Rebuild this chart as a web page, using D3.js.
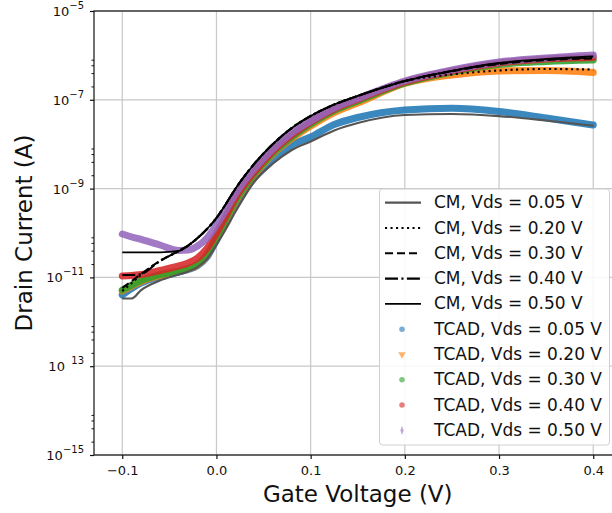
<!DOCTYPE html>
<html lang="en">
<head>
<meta charset="UTF-8" />
<title>Drain Current vs Gate Voltage</title>
<style>
  body { margin: 0; background: #fff; }
  svg { display: block; font-family: "DejaVu Sans", sans-serif; }
</style>
</head>
<body>
<svg id="chart" width="612" height="513"></svg>
<script src="https://d3js.org/d3.v7.min.js"></script>
<script>
  // gate voltage samples (V), shared by all series
  const gateVoltage = [-0.1, -0.09, -0.08, -0.06, -0.04, -0.03, -0.02, -0.01, 0, 0.01, 0.02, 0.04, 0.06, 0.08, 0.1, 0.125, 0.15, 0.2, 0.25, 0.3, 0.35, 0.4];

  // compact model curves (A)
  const cmVds005 = [3.35e-12, 3.35e-12, 5.2e-12, 8.51e-12, 1.16e-11, 1.36e-11, 1.71e-11, 2.59e-11, 5.37e-11, 1.23e-10, 2.97e-10, 1.41e-9, 3.67e-9, 7.4e-9, 1.15e-8, 2.04e-8, 3.0e-8, 4.55e-8, 4.79e-8, 4.31e-8, 3.42e-8, 2.61e-8];
  const cmVds020 = [4.94e-12, 7.48e-12, 1.15e-11, 2.34e-11, 3.94e-11, 5.22e-11, 7.71e-11, 1.23e-10, 2.18e-10, 4.5e-10, 9.8e-10, 3.58e-9, 1.01e-8, 2.32e-8, 4.31e-8, 7.83e-8, 1.22e-7, 2.65e-7, 3.72e-7, 4.57e-7, 4.94e-7, 4.81e-7];
  const cmVds030 = [5.77e-12, 8.3e-12, 1.19e-11, 2.34e-11, 3.94e-11, 5.22e-11, 7.71e-11, 1.23e-10, 2.18e-10, 4.5e-10, 9.8e-10, 3.58e-9, 1.01e-8, 2.32e-8, 4.31e-8, 7.83e-8, 1.22e-7, 2.65e-7, 4.4e-7, 6.4e-7, 7.88e-7, 8.51e-7];
  const cmVds040 = [1.13e-11, 1.13e-11, 1.19e-11, 2.34e-11, 3.94e-11, 5.22e-11, 7.71e-11, 1.23e-10, 2.18e-10, 4.5e-10, 9.8e-10, 3.58e-9, 1.01e-8, 2.32e-8, 4.31e-8, 7.83e-8, 1.22e-7, 2.65e-7, 4.46e-7, 6.58e-7, 8.09e-7, 8.97e-7];
  const cmVds050 = [3.67e-11, 3.67e-11, 3.67e-11, 3.67e-11, 3.94e-11, 5.22e-11, 7.71e-11, 1.23e-10, 2.18e-10, 4.5e-10, 9.8e-10, 3.58e-9, 1.01e-8, 2.32e-8, 4.31e-8, 7.83e-8, 1.22e-7, 2.65e-7, 4.5e-7, 6.74e-7, 8.3e-7, 9.45e-7];

  // TCAD simulation (A)
  const tcadVds005 = [4.02e-12, 5.62e-12, 7.48e-12, 1.05e-11, 1.32e-11, 1.51e-11, 1.85e-11, 2.88e-11, 6.95e-11, 1.77e-10, 4.5e-10, 1.73e-9, 4.41e-9, 9.6e-9, 1.45e-8, 2.78e-8, 3.99e-8, 5.89e-8, 6.44e-8, 5.45e-8, 3.89e-8, 2.7e-8];
  const tcadVds020 = [4.94e-12, 6.4e-12, 8.09e-12, 1.1e-11, 1.36e-11, 1.55e-11, 1.9e-11, 3.11e-11, 7.71e-11, 1.96e-10, 4.99e-10, 2.02e-9, 6.01e-9, 1.34e-8, 2.57e-8, 5.18e-8, 8.47e-8, 2.33e-7, 3.62e-7, 4.46e-7, 4.57e-7, 4.12e-7];
  const tcadVds030 = [5.2e-12, 6.74e-12, 8.51e-12, 1.16e-11, 1.39e-11, 1.58e-11, 2.0e-11, 3.28e-11, 8.13e-11, 2.07e-10, 5.26e-10, 2.13e-9, 6.34e-9, 1.45e-8, 2.85e-8, 5.74e-8, 9.4e-8, 2.39e-7, 4.23e-7, 6.24e-7, 7.29e-7, 7.88e-7];
  const tcadVds040 = [1.08e-11, 1.1e-11, 1.16e-11, 1.43e-11, 1.81e-11, 2.11e-11, 2.74e-11, 4.48e-11, 1.0e-10, 2.42e-10, 6.14e-10, 2.37e-9, 7.03e-9, 1.61e-8, 3.16e-8, 6.21e-8, 1.02e-7, 2.52e-7, 4.46e-7, 6.74e-7, 8.3e-7, 8.97e-7];
  const tcadVds050 = [9.49e-11, 8.13e-11, 7.14e-11, 5.37e-11, 4.04e-11, 4.14e-11, 5.09e-11, 7.71e-11, 1.51e-10, 3.3e-10, 7.55e-10, 2.76e-9, 7.8e-9, 1.79e-8, 3.33e-8, 6.53e-8, 1.07e-7, 2.65e-7, 4.69e-7, 7.1e-7, 8.73e-7, 1.02e-6];

  const xTicks = [-0.1, 0.0, 0.1, 0.2, 0.3, 0.4];
  const yMajorTicks = [1e-15, 1e-13, 1e-11, 1e-9, 1e-7, 1e-5];
  const yExponents = ["\u221215", "\u200713", "\u221211", "\u22129", "\u22127", "\u22125"];
  const yMinorTicks = [];
  [-15, -13, -11, -9, -7].forEach(e => [2, 4, 6, 8].forEach(m => yMinorTicks.push(m * Math.pow(10, e))));

  const cmSeries = [
    { label: "CM, Vds = 0.05 V", values: cmVds005, color: "#555", width: 2.2, dash: null },
    { label: "CM, Vds = 0.20 V", values: cmVds020, color: "#000", width: 2.1, dash: "2.1,3.4" },
    { label: "CM, Vds = 0.30 V", values: cmVds030, color: "#000", width: 2.1, dash: "8,4" },
    { label: "CM, Vds = 0.40 V", values: cmVds040, color: "#000", width: 2.1, dash: "13,3.4,2.1,3.4" },
    { label: "CM, Vds = 0.50 V", values: cmVds050, color: "#000", width: 1.8, dash: null }
  ];
  const tcadSeries = [
    { label: "TCAD, Vds = 0.05 V", values: tcadVds005, color: "#1f77b4", symbol: d3.symbolCircle, rot: 0, sx: 1 },
    { label: "TCAD, Vds = 0.20 V", values: tcadVds020, color: "#ff7f0e", symbol: d3.symbolTriangle, rot: 180, sx: 1 },
    { label: "TCAD, Vds = 0.30 V", values: tcadVds030, color: "#2ca02c", symbol: d3.symbolCircle, rot: 0, sx: 1 },
    { label: "TCAD, Vds = 0.40 V", values: tcadVds040, color: "#d62728", symbol: d3.symbolCircle, rot: 0, sx: 1 },
    { label: "TCAD, Vds = 0.50 V", values: tcadVds050, color: "#9467bd", symbol: d3.symbolDiamond, rot: 0, sx: 0.6 }
  ];

  const svg = d3.select("#chart");
  const plotLeft = 94, plotRight = 621.5, plotTop = 11, plotBottom = 455;

  const x = d3.scaleLinear().domain([-0.13, 0.43]).range([plotLeft, plotRight]);
  const y = d3.scaleLog().domain([1e-15, 1e-5]).range([plotBottom, plotTop]);

  // grid
  svg.append("g").selectAll("line")
    .data(xTicks).join("line")
    .attr("x1", d => x(d)).attr("x2", d => x(d))
    .attr("y1", plotTop).attr("y2", plotBottom)
    .attr("stroke", "#c8c8c8").attr("stroke-width", 1.2);
  svg.append("g").selectAll("line")
    .data(yMajorTicks).join("line")
    .attr("x1", plotLeft).attr("x2", plotRight)
    .attr("y1", d => y(d)).attr("y2", d => y(d))
    .attr("stroke", "#c8c8c8").attr("stroke-width", 1.2);

  const line = vals => d3.line()
    .x((d, i) => x(gateVoltage[i]))
    .y(d => y(d))
    .curve(d3.curveMonotoneX)(vals);

  // TCAD first, compact model lines drawn over them
  svg.append("g").selectAll("path")
    .data(tcadSeries).join("path")
    .attr("d", d => line(d.values))
    .attr("fill", "none")
    .attr("stroke", d => d.color)
    .attr("stroke-width", 7)
    .attr("stroke-linecap", "round")
    .attr("stroke-linejoin", "round")
    .attr("stroke-opacity", 0.88);

  svg.append("g").selectAll("path")
    .data(cmSeries).join("path")
    .attr("d", d => line(d.values))
    .attr("fill", "none")
    .attr("stroke", d => d.color)
    .attr("stroke-width", d => d.width)
    .attr("stroke-dasharray", d => d.dash);

  // frame (right spine falls outside the picture)
  svg.append("rect")
    .attr("x", plotLeft).attr("y", plotTop)
    .attr("width", plotRight - plotLeft).attr("height", plotBottom - plotTop)
    .attr("fill", "none").attr("stroke", "#111").attr("stroke-width", 1.2);

  // x axis
  const xAxis = svg.append("g")
    .attr("transform", `translate(0,${plotBottom})`)
    .call(d3.axisBottom(x).tickValues(xTicks).tickFormat(d3.format(".1f"))
      .tickSize(4).tickSizeOuter(0).tickPadding(7));
  xAxis.select(".domain").remove();
  xAxis.selectAll("text").attr("font-size", 13).attr("font-family", "DejaVu Sans").attr("fill", "#111");
  xAxis.selectAll("line").attr("stroke", "#111").attr("stroke-width", 1.2);

  // y axis: major ticks, minor ticks, mathtext-like labels
  const yAxis = svg.append("g")
    .attr("transform", `translate(${plotLeft},0)`)
    .call(d3.axisLeft(y).tickValues(yMajorTicks).tickFormat("").tickSize(4).tickSizeOuter(0));
  yAxis.select(".domain").remove();
  yAxis.selectAll("line").attr("stroke", "#111").attr("stroke-width", 1.2);

  const yMinor = svg.append("g")
    .attr("transform", `translate(${plotLeft},0)`)
    .call(d3.axisLeft(y).tickValues(yMinorTicks).tickFormat("").tickSize(2.5).tickSizeOuter(0));
  yMinor.select(".domain").remove();
  yMinor.selectAll("line").attr("stroke", "#111").attr("stroke-width", 1);

  const yLabels = svg.append("g").selectAll("text")
    .data(yMajorTicks).join("text")
    .attr("x", 84)
    .attr("y", d => y(d) + 5)
    .attr("text-anchor", "end")
    .attr("font-size", 13)
    .attr("fill", "#111");
  yLabels.append("tspan").text("10");
  yLabels.append("tspan")
    .attr("dy", -7).attr("font-size", 10)
    .text((d, i) => yExponents[i]);

  // axis titles
  svg.append("text")
    .attr("x", (plotLeft + plotRight) / 2).attr("y", 502)
    .attr("text-anchor", "middle")
    .attr("font-size", 23).attr("fill", "#111")
    .text("Gate Voltage (V)");
  svg.append("text")
    .attr("transform", `translate(32,${(plotTop + plotBottom) / 2}) rotate(-90)`)
    .attr("text-anchor", "middle")
    .attr("font-size", 23).attr("fill", "#111")
    .text("Drain Current (A)");

  // legend
  const legend = svg.append("g");
  legend.append("rect")
    .attr("x", 379.5).attr("y", 189)
    .attr("width", 230).attr("height", 256)
    .attr("rx", 3)
    .attr("fill", "#fff").attr("fill-opacity", 0.85)
    .attr("stroke", "#d0d0d0").attr("stroke-width", 1);

  const rowY = i => 202.7 + i * 25.3;

  const cmRows = legend.selectAll(".cm-row")
    .data(cmSeries).join("g").attr("class", "cm-row")
    .attr("transform", (d, i) => `translate(0,${rowY(i)})`);
  cmRows.append("line")
    .attr("x1", 385).attr("x2", 421).attr("y1", 0).attr("y2", 0)
    .attr("stroke", d => d.color)
    .attr("stroke-width", d => d.width)
    .attr("stroke-dasharray", d => d.dash);
  cmRows.append("text")
    .attr("x", 434).attr("y", 5.5)
    .attr("font-size", 17).attr("fill", "#111")
    .text(d => d.label);

  const tcadRows = legend.selectAll(".tcad-row")
    .data(tcadSeries).join("g").attr("class", "tcad-row")
    .attr("transform", (d, i) => `translate(0,${rowY(i + 5)})`);
  tcadRows.append("path")
    .attr("d", d => d3.symbol().type(d.symbol).size(24)())
    .attr("transform", d => `translate(402,0) rotate(${d.rot}) scale(${d.sx},1)`)
    .attr("fill", d => d.color)
    .attr("fill-opacity", 0.6);
  tcadRows.append("text")
    .attr("x", 434).attr("y", 5.5)
    .attr("font-size", 17).attr("fill", "#111")
    .text(d => d.label);
</script>
</body>
</html>
